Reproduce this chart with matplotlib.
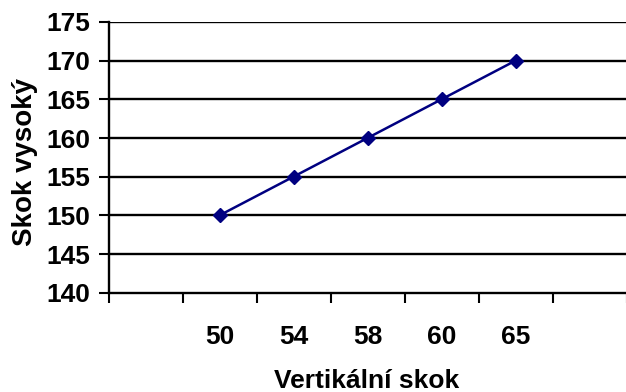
import matplotlib
matplotlib.use("Agg")
import matplotlib.pyplot as plt

categories = ["", "50", "54", "58", "60", "65", ""]
values = [None, 150, 155, 160, 165, 170, None]
y_ticks = [140, 145, 150, 155, 160, 165, 170, 175]
x_label = "Vertikální skok"
y_label = "Skok vysoký"

plt.rcParams['font.family'] = ['Liberation Sans', 'DejaVu Sans']
plt.rcParams['font.weight'] = 'bold'

W, H = 626, 392
fig = plt.figure(figsize=(W / 100, H / 100), dpi=100)
left, right, top, bottom = 108.5, 626.5, 22, 292.7
ax = fig.add_axes([left / W, 1 - bottom / H, (right - left) / W, (bottom - top) / H])

xs = [i + 0.5 for i in range(len(categories))]
px = [x for x, v in zip(xs, values) if v is not None]
py = [v for v in values if v is not None]
ax.plot(px, py, color="#000080", lw=1.8, marker="D", ms=7.5, mfc="#000080", mec="#000080", zorder=3)

ax.set_xlim(0, len(categories))
ax.set_ylim(y_ticks[0], y_ticks[-1])
ax.set_yticks(y_ticks)
ax.set_xticks(range(len(categories) + 1))
ax.set_xticklabels([])
ax.set_xticks(xs, minor=True)
ax.set_xticklabels(categories, minor=True)
ax.tick_params(axis='x', which='minor', length=0, pad=23, labelsize=19)
ax.tick_params(axis='x', which='major', length=7, width=1.5, direction='out', color='black')
ax.tick_params(axis='y', length=7, width=1.5, direction='out', pad=6, labelsize=19)
for lab in ax.get_yticklabels() + ax.get_xticklabels(minor=True):
    lab.set_fontweight('bold')

for y in y_ticks[1:]:
    ax.axhline(y, color='black', lw=1.7, zorder=1)

for s in ['top', 'right']:
    ax.spines[s].set_visible(False)
for s in ['left', 'bottom']:
    ax.spines[s].set_linewidth(1.7)
    ax.spines[s].set_color('black')

fig.text((left + right - 1) / 2 / W, 1 - 381 / H, x_label, ha='center', va='center',
         fontsize=19, fontweight='bold')
fig.text(25 / W, 1 - 162 / H, y_label, ha='center', va='center', rotation=90,
         fontsize=20, fontweight='bold')

fig.savefig("out.png", dpi=100)
